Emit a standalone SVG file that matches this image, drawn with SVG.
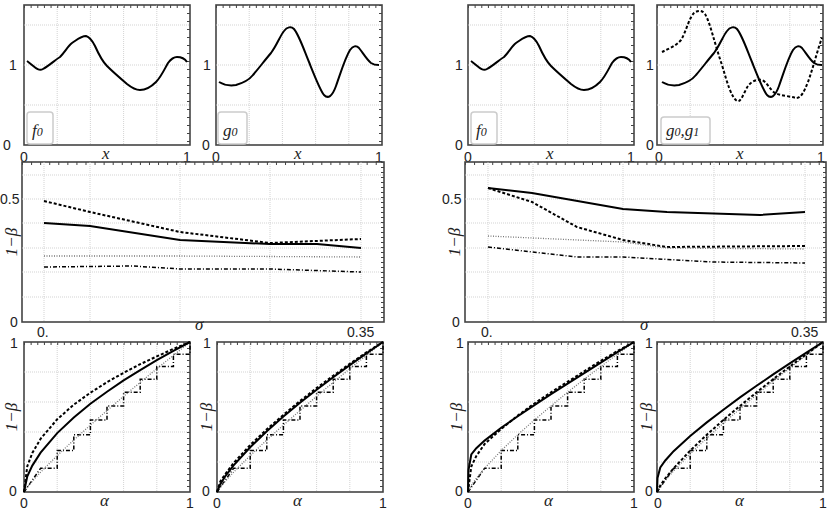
<svg xmlns="http://www.w3.org/2000/svg" xmlns:xlink="http://www.w3.org/1999/xlink" width="830" height="511" viewBox="0 0 830 511">
<style>
.fr{fill:none;stroke:#444;stroke-width:1.6}
.gr{stroke:#c8c8c8;stroke-width:0.8;stroke-dasharray:1 1;fill:none}
.tk{stroke:#444;stroke-width:3;fill:none}
.c{fill:none;stroke:#000;stroke-width:2}
.ds{fill:none;stroke:#000;stroke-width:2;stroke-dasharray:3 2}
.dt{fill:none;stroke:#777;stroke-width:1.3;stroke-dasharray:1 1.5}
.dd{fill:none;stroke:#000;stroke-width:1.5;stroke-dasharray:4 2 1 2}
.n{font-family:"Liberation Sans",Arial,sans-serif;font-size:14px;fill:#222}
.i{font-family:"Liberation Serif","DejaVu Serif",serif;font-style:italic;font-size:17px;fill:#222}
.lb{fill:#fff;stroke:#ccc;stroke-width:1.5}
</style>
<defs>
<path id="stair" d="M0,492 L16.6,468.3 H33.2 V450.6 H49.8 V434.7 H66.4 V420 H83 V405.9 H99.6 V392.3 H116.2 V379.2 H132.8 V366.5 H149.4 V354.2 H166 V342"/>
<path id="dot88" d="M0,492 L3.3,487.2 8.3,481.2 16.6,472.2 33.2,455.6 49.8,440 66.4,425.1 83,410.6 99.6,396.3 116.2,382.4 132.8,368.7 149.4,355.4 166,342"/>
<g id="fTop">
<rect class="fr" x="0" y="5" width="166" height="140"/>
<path class="gr" d="M33.2,5V145M66.4,5V145M99.6,5V145M132.8,5V145M0,25H166M0,65H166M0,105H166"/>
<path class="tk" d="M0,6.5H166" stroke-dasharray="1 5.64"/>
<path class="tk" d="M164.5,5V145" stroke-dasharray="1 7"/>
</g>
<g id="fBot">
<rect class="fr" x="0" y="342" width="166" height="150"/>
<path class="gr" d="M33.2,342V492M66.4,342V492M99.6,342V492M132.8,342V492M0,372H166M0,402H166M0,432H166M0,462H166"/>
<path class="tk" d="M0,343.5H166" stroke-dasharray="1 5.64"/>
<path class="tk" d="M164.5,342V492" stroke-dasharray="1 5"/>
</g>
<path id="f0c" d="M3,61 C10,66 14,72 19,69 C26,65 31,60 36,57 C41,52 44,46 48,43 C54,39 57,36 62,36 C66,37 68,40 71,46 C75,55 78,61 83,66 C89,72 96,78 103,84 C108,88 112,90 116,90 C122,90 127,87 132,82 C137,77 140,70 144,63 C147,59 150,57 153,57 C157,57 161,59 163,62"/>
<path id="g0c" d="M3,82 C8,85 14,86 20,85 C27,83 33,80 37,75 C43,68 49,60 55,53 C61,45 64,36 68,31 C71,27 75,26 78,29 C83,35 88,50 93,62 C99,77 104,90 108,95 C112,99 116,97 120,86 C125,72 129,58 134,50 C137,46 140,45 143,48 C147,53 151,60 155,63 C158,65 160,65 163,65"/>
</defs>

<g id="panel-top1"><use xlink:href="#fTop" x="24"/><use xlink:href="#f0c" x="24" class="c"/>
<rect class="lb" x="27" y="112" width="26" height="32" rx="3"/><text class="i" x="32" y="136" font-size="15">f<tspan font-size="12">0</tspan></text></g>
<g id="panel-top2"><use xlink:href="#fTop" x="216"/><use xlink:href="#g0c" x="216" class="c"/>
<rect class="lb" x="218" y="112" width="29" height="32" rx="3"/><text class="i" x="223" y="136" font-size="15">g<tspan font-size="12">0</tspan></text></g>
<g id="panel-top3"><use xlink:href="#fTop" x="468"/><use xlink:href="#f0c" x="468" class="c"/>
<rect class="lb" x="471" y="112" width="26" height="32" rx="3"/><text class="i" x="476" y="136" font-size="15">f<tspan font-size="12">0</tspan></text></g>
<g id="panel-top4"><use xlink:href="#fTop" x="657"/><use xlink:href="#g0c" x="659" class="c"/>
<path class="ds" d="M662,52 C668,49 676,46 681,40 C686,32 689,18 694,13 C698,10 702,10 705,14 C710,22 715,45 722,65 C727,82 731,97 737,101 C741,103 744,92 748,86 C752,81 757,79 762,80 C767,82 770,90 775,93 C781,96 790,96 796,98 C801,98 804,92 808,82 C814,65 818,48 822,38"/>
<rect class="lb" x="661" y="117" width="49" height="27" rx="3"/><text class="i" x="666" y="136" font-size="15">g<tspan font-size="12">0</tspan>,g<tspan font-size="12">1</tspan></text></g>

<g id="ticks-top" class="n">
<text x="9" y="70">1</text><text x="3" y="150">0</text><text x="20" y="162">0</text><text x="183" y="162">1</text><text class="i" x="102" y="159">x</text>
<text x="203" y="70">1</text><text x="202" y="150">0</text><text x="212" y="162">0</text><text x="375" y="162">1</text><text class="i" x="294" y="159">x</text>
<text x="455" y="70">1</text><text x="455" y="150">0</text><text x="464" y="162">0</text><text x="627" y="162">1</text><text class="i" x="546" y="159">x</text>
<text x="646" y="70">1</text><text x="646" y="150">0</text><text x="655" y="162">0</text><text x="817" y="162">1</text><text class="i" x="736" y="159">x</text>
</g>

<g id="panel-mid1">
<rect class="fr" x="22" y="162" width="362" height="160"/>
<path class="gr" d="M44,162V322M90,162V322M180,162V322M270,162V322M361,162V322M22,175H384M22,199H384M22,223H384M22,248H384M22,272H384M22,297H384"/>
<path class="tk" d="M22,163.5H384" stroke-dasharray="1 8.07"/>
<path class="tk" d="M382.5,162V322" stroke-dasharray="1 4"/>
<polyline class="ds" points="44,201 90,212 180,232 270,243 361,239"/>
<polyline class="c" points="44,223 90,226 180,240 270,244 317,244 361,248"/>
<polyline class="dt" points="44,256 180,256 361,257"/>
<polyline class="dd" points="44,267 133,266 180,269 270,269 361,272"/>
<text class="n" x="0" y="204">0.5</text><text class="n" x="10" y="327">0</text>
<text class="n" x="37" y="337">0.</text><text class="n" x="347" y="337">0.35</text>
<text class="i" x="195" y="330">σ</text>
<text class="i" transform="translate(17,242) rotate(-90)" text-anchor="middle">1−β</text>
</g>
<g id="panel-mid2">
<rect class="fr" x="465" y="162" width="361" height="160"/>
<path class="gr" d="M488,162V322M533,162V322M623,162V322M714,162V322M805,162V322M465,175H826M465,199H826M465,223H826M465,248H826M465,272H826M465,297H826"/>
<path class="tk" d="M465,163.5H826" stroke-dasharray="1 8.07"/>
<path class="tk" d="M824.5,162V322" stroke-dasharray="1 4"/>
<polyline class="c" points="488,188 532,193 623,209 667,212 760,215 805,212"/>
<polyline class="ds" points="488,188 532,202 577,227 623,240 667,247 805,246"/>
<polyline class="dt" points="488,236 623,242 667,248 805,249"/>
<polyline class="dd" points="488,247 577,257 623,257 713,262 805,263"/>
<text class="n" x="442" y="204">0.5</text><text class="n" x="452" y="327">0</text>
<text class="n" x="481" y="337">0.</text><text class="n" x="791" y="337">0.35</text>
<text class="i" x="640" y="330">σ</text>
<text class="i" transform="translate(460,242) rotate(-90)" text-anchor="middle">1−β</text>
</g>

<g id="panel-roc1" transform="translate(24,0)">
<use xlink:href="#fBot"/>
<use xlink:href="#stair" class="dd"/><use xlink:href="#dot88" class="dt"/>
<polyline class="ds" points="0,492 3.3,466.2 8.3,453 16.6,438.8 33.2,419.3 49.8,404.7 66.4,392.7 83,382.2 99.6,372.8 116.2,364.2 132.8,356.4 149.4,348.9 166,342"/>
<polyline class="c" points="0,492 3.3,476.4 8.3,465.6 16.6,452.6 33.2,433.1 49.8,417.5 66.4,403.8 83,391.7 99.6,380.4 116.2,370.1 132.8,360.2 149.4,350.9 166,342"/>
</g>
<g id="panel-roc2" transform="translate(217,0)">
<use xlink:href="#fBot"/>
<use xlink:href="#stair" class="dd"/><use xlink:href="#dot88" class="dt"/>
<polyline class="ds" points="0,492 3.3,481.5 8.3,474 16.6,463 33.2,445 49.8,429.3 66.4,414.8 83,401 99.6,388 116.2,375.8 132.8,363.8 149.4,352.4 166,342"/>
<polyline class="c" points="0,492 3.3,484.1 8.3,476.1 16.6,465.3 33.2,447.2 49.8,431.3 66.4,416.6 83,402.8 99.6,389.7 116.2,377.3 132.8,365.1 149.4,353.4 166,342"/>
</g>
<g id="panel-roc3" transform="translate(468,0)">
<use xlink:href="#fBot"/>
<use xlink:href="#stair" class="dd"/>
<polyline class="dt" points="0,492 3.3,485.4 8.3,478.4 16.6,468.3 33.2,450.6 49.8,434.7 66.4,420 83,405.9 99.6,392.3 116.2,379.2 132.8,366.5 149.4,354.2 166,342"/>
<polyline class="ds" points="0,492 3.3,466.5 8.3,456 16.6,444 33.2,429 49.8,415.5 66.4,403.5 83,392.3 99.6,381.8 116.2,371.3 132.8,360.8 149.4,351 166,342"/>
<polyline class="c" points="0,492 0.5,470 3.3,454.5 8.3,448.2 16.6,440.6 33.2,427.8 49.8,416.3 66.4,405.2 83,394.2 99.6,383.6 116.2,373.1 132.8,362.7 149.4,352.2 166,342"/>
</g>
<g id="panel-roc4" transform="translate(657,0)">
<use xlink:href="#fBot"/>
<use xlink:href="#stair" class="dd"/>
<polyline class="dt" points="0,492 3.3,486.6 8.3,480.3 16.6,470.9 33.2,453.8 49.8,438.2 66.4,423.2 83,408.8 99.6,394.8 116.2,381.2 132.8,368 149.4,354.9 166,342"/>
<polyline class="ds" points="0,492 3.3,485.4 8.3,478.4 16.6,468.3 33.2,450.6 49.8,434.7 66.4,420 83,405.9 99.6,392.3 116.2,379.2 132.8,366.5 149.4,354.2 166,342"/>
<polyline class="c" points="0,492 0.5,478 3.3,467.4 8.3,460.5 16.6,451.2 33.2,435.9 49.8,422.4 66.4,409.7 83,397.4 99.6,385.8 116.2,374.4 132.8,363.3 149.4,352.7 166,342"/>
</g>

<g id="ticks-bottom" class="n">
<text x="10" y="348">1</text><text x="9" y="496">0</text><text x="20" y="508">0</text><text x="186" y="508">1</text><text class="i" x="100" y="506">α</text>
<text class="i" transform="translate(17,417) rotate(-90)" text-anchor="middle">1−β</text>
<text x="203" y="348">1</text><text x="202" y="496">0</text><text x="213" y="508">0</text><text x="379" y="508">1</text><text class="i" x="293" y="506">α</text>
<text class="i" transform="translate(212,417) rotate(-90)" text-anchor="middle">1−β</text>
<text x="456" y="348">1</text><text x="455" y="496">0</text><text x="464" y="508">0</text><text x="630" y="508">1</text><text class="i" x="544" y="506">α</text>
<text class="i" transform="translate(462,417) rotate(-90)" text-anchor="middle">1−β</text>
<text x="645" y="348">1</text><text x="645" y="496">0</text><text x="654" y="508">0</text><text x="819" y="508">1</text><text class="i" x="735" y="506">α</text>
<text class="i" transform="translate(652,417) rotate(-90)" text-anchor="middle">1−β</text>
</g>
</svg>
